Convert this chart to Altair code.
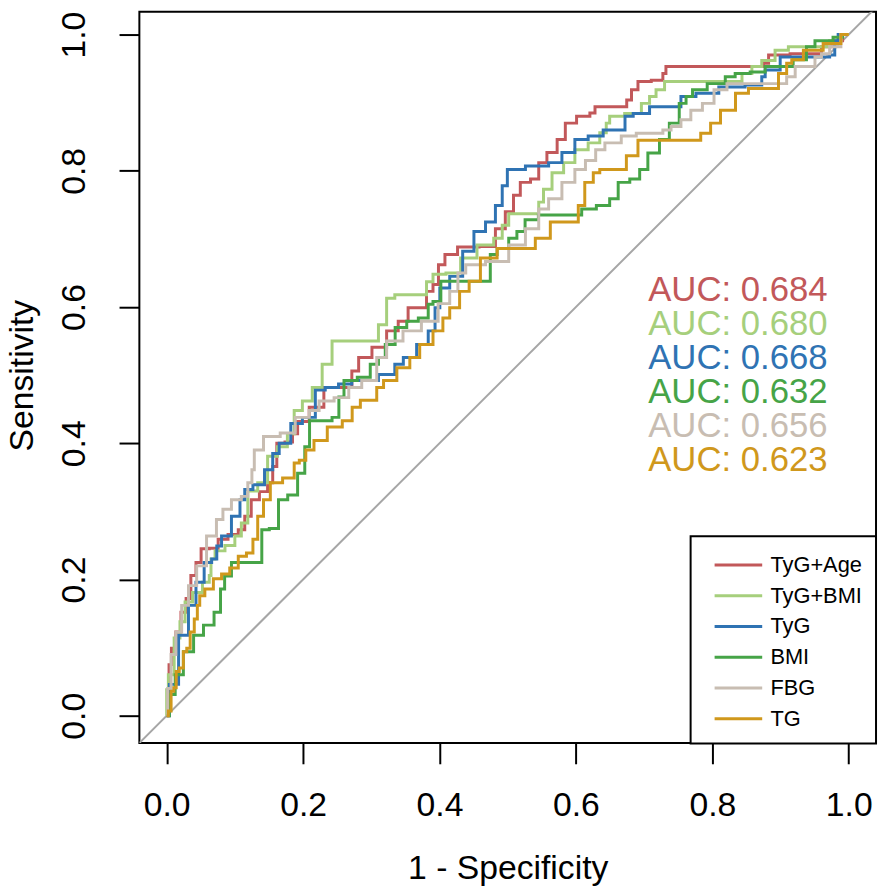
import altair as alt
import pandas as pd

series = ["TyG+Age", "TyG+BMI", "TyG", "BMI", "FBG", "TG"]
colors = ["#C2585A", "#A6CF7C", "#2F73B3", "#46A447", "#C8BDB2", "#D0981C"]
auc_labels = ["AUC: 0.684", "AUC: 0.680", "AUC: 0.668", "AUC: 0.632", "AUC: 0.656", "AUC: 0.623"]
auc_y = [0.625, 0.575, 0.525, 0.475, 0.425, 0.375]
auc_x = [0.706, 0.706, 0.706, 0.706, 0.706, 0.706]
tick_values = [0.0, 0.2, 0.4, 0.6, 0.8, 1.0]
diag_x = [-0.04, 1.04]
diag_y = [-0.04, 1.04]

tyg_age_x = [0, 0.003, 0.004, 0.010, 0.017, 0.025, 0.032, 0.039, 0.047, 0.054, 0.071, 0.080, 0.100, 0.110, 0.119, 0.129, 0.143, 0.153, 0.158, 0.165, 0.182, 0.187, 0.197, 0.221, 0.240, 0.269, 0.274, 0.289, 0.313, 0.332, 0.347, 0.361, 0.376, 0.386, 0.395, 0.402, 0.414, 0.439, 0.477, 0.487, 0.506, 0.511, 0.526, 0.541, 0.550, 0.565, 0.580, 0.589, 0.613, 0.628, 0.628, 0.672, 0.677, 0.686, 0.696, 0.725, 0.730, 0.734, 0.870, 0.880, 0.885, 0.943, 0.977, 0.982, 1.0]
tyg_age_y = [0, 0.031, 0.075, 0.099, 0.123, 0.152, 0.172, 0.206, 0.225, 0.245, 0.246, 0.259, 0.266, 0.273, 0.293, 0.317, 0.329, 0.342, 0.366, 0.400, 0.402, 0.414, 0.432, 0.453, 0.482, 0.482, 0.506, 0.526, 0.541, 0.565, 0.579, 0.599, 0.599, 0.623, 0.633, 0.662, 0.677, 0.688, 0.689, 0.715, 0.740, 0.764, 0.783, 0.788, 0.812, 0.827, 0.846, 0.870, 0.880, 0.885, 0.894, 0.894, 0.904, 0.919, 0.931, 0.933, 0.943, 0.953, 0.953, 0.958, 0.970, 0.972, 0.982, 0.991, 1.0]

tyg_bmi_x = [0, 0, 0.005, 0.017, 0.022, 0.032, 0.044, 0.061, 0.064, 0.066, 0.076, 0.095, 0.105, 0.114, 0.124, 0.143, 0.153, 0.172, 0.182, 0.192, 0.206, 0.221, 0.235, 0.250, 0.303, 0.318, 0.327, 0.342, 0.376, 0.386, 0.395, 0.424, 0.438, 0.472, 0.487, 0.497, 0.506, 0.541, 0.550, 0.555, 0.575, 0.589, 0.608, 0.628, 0.642, 0.647, 0.652, 0.691, 0.701, 0.715, 0.720, 0.740, 0.841, 0.846, 0.870, 0.875, 0.909, 0.914, 0.967, 0.977, 1.0]
tyg_bmi_y = [0, 0.038, 0.060, 0.114, 0.138, 0.167, 0.181, 0.196, 0.206, 0.230, 0.242, 0.250, 0.264, 0.283, 0.330, 0.342, 0.381, 0.395, 0.414, 0.448, 0.462, 0.482, 0.516, 0.550, 0.550, 0.574, 0.613, 0.618, 0.618, 0.637, 0.648, 0.650, 0.672, 0.691, 0.701, 0.720, 0.737, 0.737, 0.754, 0.773, 0.797, 0.812, 0.831, 0.841, 0.856, 0.870, 0.880, 0.884, 0.899, 0.909, 0.919, 0.931, 0.931, 0.943, 0.953, 0.962, 0.977, 0.982, 0.982, 0.991, 1.0]

tyg_x = [0, 0.008, 0.027, 0.037, 0.049, 0.061, 0.071, 0.076, 0.085, 0.105, 0.110, 0.119, 0.134, 0.153, 0.158, 0.172, 0.192, 0.206, 0.230, 0.235, 0.269, 0.274, 0.308, 0.313, 0.332, 0.337, 0.357, 0.376, 0.391, 0.396, 0.405, 0.425, 0.443, 0.458, 0.477, 0.487, 0.497, 0.502, 0.550, 0.570, 0.589, 0.608, 0.628, 0.652, 0.672, 0.672, 0.696, 0.720, 0.749, 0.759, 0.793, 0.826, 0.870, 0.875, 0.880, 0.919, 0.967, 0.977, 0.982, 0.987, 1.0]
tyg_y = [0, 0.046, 0.118, 0.162, 0.196, 0.225, 0.230, 0.249, 0.264, 0.293, 0.317, 0.332, 0.339, 0.361, 0.385, 0.400, 0.429, 0.438, 0.478, 0.482, 0.487, 0.492, 0.492, 0.501, 0.501, 0.516, 0.526, 0.545, 0.565, 0.599, 0.628, 0.645, 0.682, 0.711, 0.725, 0.749, 0.778, 0.802, 0.807, 0.812, 0.827, 0.846, 0.851, 0.860, 0.860, 0.880, 0.884, 0.894, 0.894, 0.909, 0.914, 0.923, 0.926, 0.938, 0.948, 0.967, 0.967, 0.970, 0.991, 1.0, 1.0]

bmi_x = [0, 0.008, 0.017, 0.032, 0.047, 0.061, 0.078, 0.080, 0.090, 0.100, 0.138, 0.141, 0.160, 0.168, 0.187, 0.197, 0.208, 0.211, 0.235, 0.250, 0.255, 0.265, 0.294, 0.303, 0.318, 0.323, 0.347, 0.357, 0.381, 0.386, 0.395, 0.409, 0.472, 0.477, 0.492, 0.511, 0.516, 0.535, 0.555, 0.599, 0.618, 0.642, 0.657, 0.667, 0.691, 0.696, 0.715, 0.730, 0.744, 0.759, 0.764, 0.778, 0.807, 0.831, 0.836, 0.875, 0.880, 0.909, 0.928, 0.948, 0.953, 0.972, 0.982, 1.0]
bmi_y = [0, 0.031, 0.060, 0.094, 0.118, 0.133, 0.152, 0.186, 0.205, 0.225, 0.225, 0.273, 0.275, 0.317, 0.324, 0.356, 0.395, 0.433, 0.433, 0.438, 0.468, 0.492, 0.497, 0.516, 0.526, 0.545, 0.570, 0.579, 0.584, 0.604, 0.608, 0.638, 0.638, 0.677, 0.686, 0.701, 0.711, 0.728, 0.735, 0.735, 0.744, 0.749, 0.759, 0.783, 0.788, 0.802, 0.826, 0.846, 0.870, 0.899, 0.909, 0.919, 0.928, 0.938, 0.943, 0.945, 0.953, 0.953, 0.963, 0.982, 0.991, 0.991, 0.996, 1.0]

fbg_x = [0, 0.003, 0.010, 0.017, 0.027, 0.037, 0.051, 0.066, 0.080, 0.085, 0.105, 0.114, 0.124, 0.126, 0.131, 0.153, 0.180, 0.197, 0.221, 0.226, 0.265, 0.269, 0.303, 0.313, 0.332, 0.361, 0.386, 0.410, 0.420, 0.434, 0.443, 0.492, 0.511, 0.541, 0.550, 0.570, 0.589, 0.608, 0.620, 0.638, 0.647, 0.686, 0.691, 0.725, 0.730, 0.749, 0.759, 0.778, 0.793, 0.812, 0.831, 0.899, 0.919, 0.924, 0.948, 0.953, 0.967, 0.977, 1.0]
fbg_y = [0, 0.040, 0.090, 0.123, 0.162, 0.191, 0.220, 0.264, 0.288, 0.303, 0.317, 0.322, 0.342, 0.361, 0.390, 0.410, 0.415, 0.438, 0.448, 0.462, 0.467, 0.482, 0.492, 0.526, 0.550, 0.565, 0.579, 0.605, 0.623, 0.650, 0.662, 0.667, 0.691, 0.715, 0.744, 0.759, 0.783, 0.802, 0.815, 0.831, 0.841, 0.851, 0.855, 0.855, 0.860, 0.865, 0.875, 0.889, 0.899, 0.919, 0.928, 0.928, 0.938, 0.953, 0.953, 0.967, 0.972, 0.982, 1.0]

tg_x = [0, 0.005, 0.008, 0.013, 0.015, 0.022, 0.027, 0.032, 0.037, 0.044, 0.046, 0.051, 0.061, 0.076, 0.085, 0.100, 0.110, 0.124, 0.129, 0.138, 0.146, 0.158, 0.182, 0.192, 0.197, 0.211, 0.221, 0.250, 0.265, 0.279, 0.289, 0.303, 0.313, 0.323, 0.352, 0.361, 0.381, 0.400, 0.410, 0.420, 0.439, 0.448, 0.472, 0.497, 0.531, 0.550, 0.575, 0.599, 0.608, 0.618, 0.633, 0.637, 0.667, 0.681, 0.701, 0.773, 0.793, 0.802, 0.822, 0.846, 0.860, 0.890, 0.904, 0.914, 0.919, 0.948, 0.977, 1.0]
tg_y = [0, 0.007, 0.036, 0.041, 0.065, 0.070, 0.094, 0.099, 0.123, 0.142, 0.162, 0.176, 0.186, 0.201, 0.208, 0.217, 0.234, 0.239, 0.259, 0.293, 0.317, 0.342, 0.349, 0.371, 0.375, 0.390, 0.404, 0.424, 0.433, 0.453, 0.463, 0.463, 0.482, 0.492, 0.511, 0.526, 0.545, 0.565, 0.584, 0.599, 0.623, 0.638, 0.672, 0.686, 0.686, 0.701, 0.725, 0.725, 0.749, 0.783, 0.797, 0.802, 0.802, 0.822, 0.845, 0.845, 0.855, 0.870, 0.889, 0.914, 0.921, 0.921, 0.943, 0.958, 0.963, 0.977, 0.987, 1.0]

all_x = [tyg_age_x, tyg_bmi_x, tyg_x, bmi_x, fbg_x, tg_x]
all_y = [tyg_age_y, tyg_bmi_y, tyg_y, bmi_y, fbg_y, tg_y]

rows = []
for name, xs_, ys_ in zip(series, all_x, all_y):
    for i, (a, b) in enumerate(zip(xs_, ys_)):
        rows.append({"series": name, "i": i, "x": a, "y": b})
curves = pd.DataFrame(rows)

diag = pd.DataFrame({"x": diag_x, "y": diag_y})
auc = pd.DataFrame({"x": auc_x, "y": auc_y, "label": auc_labels, "tcolor": colors})

FONT = "Liberation Sans"

xaxis = alt.Axis(values=tick_values, format=".1f", title="1 - Specificity",
                 grid=False, domain=False, tickSize=21, tickWidth=2, tickColor="black",
                 labelFontSize=34, labelPadding=42, labelBaseline="middle",
                 labelColor="black", labelFlush=False, labelOverlap=False, labelFont=FONT,
                 titleFontSize=34, titleFontWeight="normal", titleColor="black", titleFont=FONT,
                 titleX=371.5, titleY=136.5, titleBaseline="alphabetic", titleAlign="center")
yaxis = alt.Axis(values=tick_values, format=".1f", title="Sensitivity",
                 grid=False, domain=False, tickSize=20.5, tickWidth=2, tickColor="black",
                 labelFontSize=34, labelPadding=45, labelAngle=270, labelAlign="center",
                 labelBaseline="middle", labelColor="black", labelFlush=False, labelOverlap=False,
                 labelFont=FONT,
                 titleFontSize=34, titleFontWeight="normal", titleColor="black", titleFont=FONT,
                 titleAngle=270, titleX=-107.5, titleY=366.5, titleBaseline="alphabetic",
                 titleAlign="center")

xs = alt.Scale(domain=[-0.04, 1.04], nice=False, zero=False)
ys = alt.Scale(domain=[-0.04, 1.0335], nice=False, zero=False)

diag_layer = alt.Chart(diag).mark_line(color="#A6A6A6", strokeWidth=2, clip=True).encode(
    x=alt.X("x:Q", scale=xs, axis=xaxis),
    y=alt.Y("y:Q", scale=ys, axis=yaxis),
)

lines = alt.Chart(curves).mark_line(strokeWidth=3, clip=True, interpolate="step").encode(
    x=alt.X("x:Q", scale=xs, axis=xaxis),
    y=alt.Y("y:Q", scale=ys, axis=yaxis),
    order=alt.Order("i:Q"),
    color=alt.Color("series:N", scale=alt.Scale(domain=series, range=colors),
                    sort=series,
                    legend=alt.Legend(title=None, orient="bottom-right", offset=0,
                                      strokeColor="black", fillColor="white", padding=14,
                                      symbolType="M-0.356,0H3.2", symbolSize=729,
                                      symbolStrokeWidth=3, labelFontSize=22, labelFont=FONT,
                                      labelColor="black", rowPadding=5, labelOffset=36.5)),
)

texts = alt.Chart(auc).mark_text(align="left", baseline="middle", fontSize=35, font=FONT).encode(
    x=alt.X("x:Q", scale=xs, axis=xaxis),
    y=alt.Y("y:Q", scale=ys, axis=yaxis),
    text="label:N",
    color=alt.Color("tcolor:N", scale=None),
)

chart = alt.layer(diag_layer, lines, texts).resolve_scale(color="independent").properties(
    width=743, height=737.5,
    padding={"left": 132.5, "top": 0, "right": 2, "bottom": 142.5},
    autosize=alt.AutoSizeParams(type="none"),
    background="white",
).configure(font=FONT).configure_view(stroke="black", strokeWidth=2).configure_legend(strokeWidth=2)

chart.save("out.html", embed_options={"renderer": "svg", "actions": False})
